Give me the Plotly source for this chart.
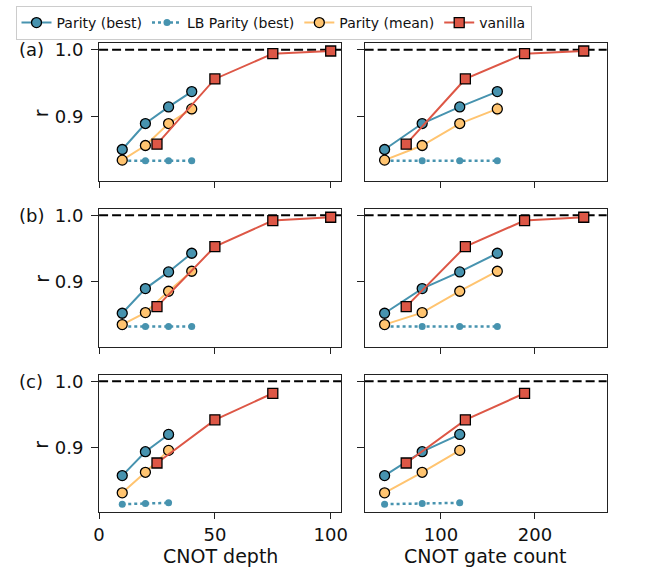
import plotly.graph_objects as go
from plotly.subplots import make_subplots

# ---------------- data ----------------
depth_parity = [10, 20, 30, 40]
depth_vanilla = [25, 50, 75, 100]
count_parity = [40, 80, 120, 160]
count_vanilla = [63, 126, 189, 252]

a_best = [0.850, 0.889, 0.914, 0.937]
a_best_err = [0.002, 0.003, 0.004, 0.006]
a_lb = [0.833, 0.833, 0.833, 0.833]
a_mean = [0.834, 0.856, 0.889, 0.911]
a_mean_err = [0.003, 0.005, 0.007, 0.010]
a_van = [0.858, 0.956, 0.994, 0.998]
a_van_err = [0.002, 0.002, 0.002, 0.002]

b_best = [0.853, 0.890, 0.915, 0.943]
b_best_err = [0.002, 0.003, 0.004, 0.005]
b_lb = [0.833, 0.833, 0.833, 0.833]
b_mean = [0.836, 0.854, 0.886, 0.916]
b_mean_err = [0.003, 0.004, 0.005, 0.007]
b_van = [0.863, 0.953, 0.992, 0.997]
b_van_err = [0.002, 0.002, 0.002, 0.002]

c_best = [0.858, 0.894, 0.920]
c_best_err = [0.002, 0.003, 0.003]
c_lb = [0.815, 0.816, 0.817]
c_mean = [0.832, 0.863, 0.896]
c_mean_err = [0.003, 0.004, 0.005]
c_van = [0.877, 0.942, 0.982]
c_van_err = [0.002, 0.002, 0.002]

panel_labels = ["(a)", "(b)", "(c)"]
series_names = ["Parity (best)", "LB Parity (best)", "Parity (mean)", "vanilla"]
x_titles = ["CNOT depth", "CNOT gate count"]
left_ticks = [0, 50, 100]
right_ticks = [100, 200]
y_ticks = [0.9, 1.0]
ideal = 1.0

# ---------------- style ----------------
BLUE = "#4793AF"
ORANGE = "#FFC470"
RED = "#DD5746"
BLUE_A = "rgba(71,147,175,0.5)"
ORANGE_A = "rgba(255,196,112,0.6)"
RED_A = "rgba(221,87,70,0.5)"
FONT = "DejaVu Sans"
W, H = 646, 572

panels = [
    (a_best, a_best_err, a_lb, a_mean, a_mean_err, a_van, a_van_err),
    (b_best, b_best_err, b_lb, b_mean, b_mean_err, b_van, b_van_err),
    (c_best, c_best_err, c_lb, c_mean, c_mean_err, c_van, c_van_err),
]

fig = make_subplots(rows=3, cols=2)

x_dom = [(95 / W, 342 / W), (366 / W, 613 / W)]
y_px = [(39.3, 178), (206, 345), (373.3, 511.7)]
x_ranges = [(0, 104.5), (18.75, 276.4)]
y_range = (0.803, 1.01)

for r, (best, best_err, lb, mean, mean_err, van, van_err) in enumerate(panels):
    n = len(best)
    for c in range(2):
        xp = (depth_parity if c == 0 else count_parity)[:n]
        xv = (depth_vanilla if c == 0 else count_vanilla)[:len(van)]
        show = (r == 0 and c == 0)
        row, col = r + 1, c + 1
        fig.add_trace(go.Scatter(
            x=xp, y=best, name=series_names[0], mode="lines+markers", showlegend=show,
            line=dict(color=BLUE, width=2),
            marker=dict(size=10, color=BLUE, line=dict(color="black", width=1.3)),
            error_y=dict(type="data", array=best_err, color=BLUE_A, thickness=2, width=0),
        ), row=row, col=col)
        fig.add_trace(go.Scatter(
            x=xp, y=lb, name=series_names[1], mode="lines+markers", showlegend=show,
            line=dict(color=BLUE, width=2.5, dash="dot"),
            marker=dict(size=7, color=BLUE),
        ), row=row, col=col)
        fig.add_trace(go.Scatter(
            x=xp, y=mean, name=series_names[2], mode="lines+markers", showlegend=show,
            line=dict(color=ORANGE, width=2),
            marker=dict(size=10, color=ORANGE, line=dict(color="black", width=1.3)),
            error_y=dict(type="data", array=mean_err, color=ORANGE_A, thickness=2, width=0),
        ), row=row, col=col)
        fig.add_trace(go.Scatter(
            x=xv, y=van, name=series_names[3], mode="lines+markers", showlegend=show,
            line=dict(color=RED, width=2),
            marker=dict(size=10, symbol="square", color=RED, line=dict(color="black", width=1.3)),
            error_y=dict(type="data", array=van_err, color=RED_A, thickness=2, width=0),
        ), row=row, col=col)

        idx = r * 2 + c + 1
        xa = "xaxis" if idx == 1 else f"xaxis{idx}"
        ya = "yaxis" if idx == 1 else f"yaxis{idx}"
        yref = "y" if idx == 1 else f"y{idx}"
        top, bot = y_px[r]
        tv = left_ticks if c == 0 else right_ticks
        fig.layout[xa].update(
            domain=list(x_dom[c]), range=list(x_ranges[c]),
            tickmode="array", tickvals=tv, ticktext=[str(v) for v in tv],
            showticklabels=(r == 2),
            showline=True, mirror=True, linecolor="#222", linewidth=1.2,
            ticks="outside", ticklen=6, tickwidth=1.2, tickcolor="#222",
            showgrid=False, zeroline=False,
            tickfont=dict(family=FONT, size=18, color="#111"),
        )
        fig.layout[ya].update(
            domain=[1 - bot / H, 1 - top / H], range=list(y_range),
            tickmode="array", tickvals=y_ticks, ticktext=[f"{v:.1f}" for v in y_ticks],
            showticklabels=(c == 0),
            showline=True, mirror=True, linecolor="#222", linewidth=1.2,
            ticks="outside", ticklen=7, tickwidth=1.2, tickcolor="#222",
            ticklabelstandoff=4,
            showgrid=False, zeroline=False,
            tickfont=dict(family=FONT, size=18, color="#111"),
        )
        fig.add_shape(type="line", xref=f"{xa.replace('axis', '')} domain", x0=0, x1=1,
                      yref=yref, y0=ideal, y1=ideal, layer="below",
                      line=dict(color="black", width=2, dash="9px,4px"))
        if c == 0:
            fig.add_annotation(x=26 / W, xref="paper", y=ideal, yref=yref,
                               xanchor="center", yanchor="middle",
                               text=panel_labels[r], showarrow=False,
                               font=dict(family=FONT, size=18, color="#111"))
            fig.add_annotation(x=36 / W, xref="paper", y=1 - ((top + bot) / 2 + 1) / H, yref="paper",
                               xanchor="center", yanchor="middle",
                               text="r", textangle=-90, showarrow=False,
                               font=dict(family=FONT, size=19, color="#111"))

for c in range(2):
    cx = (x_dom[c][0] + x_dom[c][1]) / 2
    fig.add_annotation(x=cx, xref="paper", y=1 - 556 / H, yref="paper",
                       xanchor="center", yanchor="middle",
                       text=x_titles[c], showarrow=False,
                       font=dict(family=FONT, size=19, color="#111"))

fig.update_layout(
    width=W, height=H,
    margin=dict(l=0, r=0, t=0, b=0),
    paper_bgcolor="white", plot_bgcolor="white",
    font=dict(family=FONT, color="#111"),
    legend=dict(
        orientation="h", x=273 / W, xanchor="center", y=1 - 2 / H, yanchor="top",
        bgcolor="white", bordercolor="#cccccc", borderwidth=1,
        font=dict(family=FONT, size=14, color="#111"),
        itemwidth=30, tracegroupgap=0,
    ),
)

fig.write_html("out.html")
